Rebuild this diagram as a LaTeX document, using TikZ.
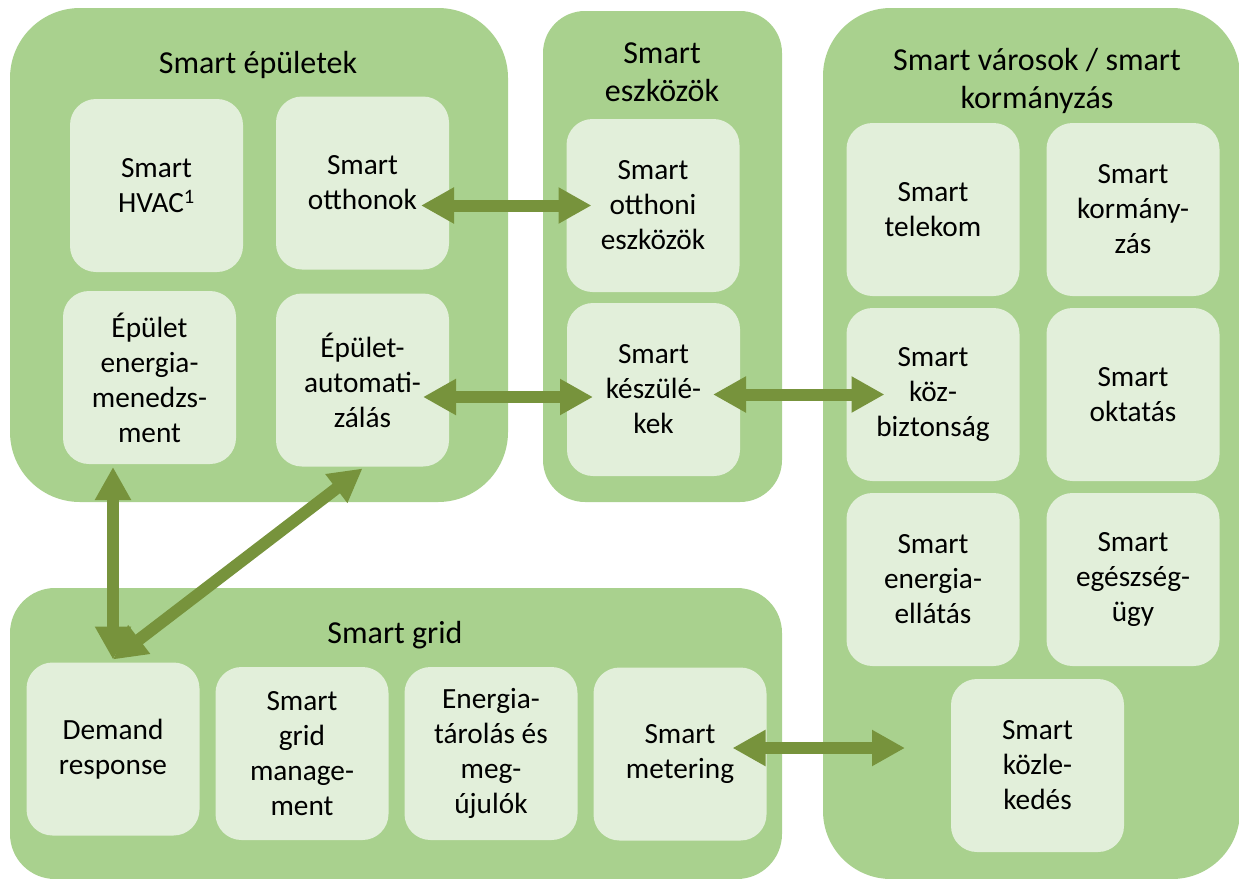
\documentclass[tikz,border=0pt]{standalone}
\usepackage{fontspec}
\setmainfont{Carlito}
\usetikzlibrary{arrows.meta,calc}
\definecolor{panelgreen}{HTML}{A9D18E}
\definecolor{cellgreen}{HTML}{E2EFDA}
\definecolor{linkgreen}{HTML}{77933C}
\begin{document}
\begin{tikzpicture}[x=1pt,y=-1pt,
  panel/.style={fill=panelgreen, rounded corners=#1, inner sep=0pt, outer sep=0pt},
  cell/.style={fill=cellgreen, rounded corners=26pt, minimum width=173pt, minimum height=173pt,
    inner sep=0pt, outer sep=0pt, align=center, font=\fontsize{29.3}{35}\selectfont},
  paneltitle/.style={align=center, anchor=base, inner sep=0pt, font=\fontsize{32}{38}\selectfont},
  link/.style={draw=linkgreen, line width=12pt,
    {Triangle[length=33pt,width=34pt]}-{Triangle[length=33pt,width=34pt]}}]
\useasboundingbox (0,0) rectangle (1239,878);
\clip (0,0) rectangle (1239,878);

% the four groups
\node[panel=70pt, minimum width=498pt, minimum height=494pt] (buildings) at (259,255) {};
\node[panel=42pt, minimum width=239pt, minimum height=491pt] (devices) at (662.5,256.5) {};
\node[panel=68pt, minimum width=417pt, minimum height=871pt] (cities) at (1031.5,443.5) {};
\node[panel=45pt, minimum width=772pt, minimum height=291pt] (grid) at (396,733.5) {};

% group titles (base anchor sits on the last line)
\node[paneltitle] (tbuildings) at (258,73) {Smart épületek};
\node[paneltitle] (tdevices) at (662,101) {Smart\\eszközök};
\node[paneltitle] (tcities) at (1037,108) {Smart városok / smart\\kormányzás};
\node[paneltitle] (tgrid) at (395,643) {Smart grid};

% smart buildings
\node[cell] (hvac) at (156.5,185.5) {Smart\\HVAC\textsuperscript{1}};
\node[cell] (otthonok) at (362.5,183) {Smart\\otthonok};
\node[cell] (energia) at (149.5,377.5) {Épület\\energia-\\menedzs-\\ment};
\node[cell] (autom) at (362.5,380) {Épület-\\automati-\\zálás};

% smart devices
\node[cell] (otthoni) at (653,205.5) {Smart\\otthoni\\eszközök};
\node[cell] (keszul) at (653.5,389.5) {Smart\\készülé-\\kek};

% smart cities / government
\node[cell] (telekom) at (933,209.5) {Smart\\telekom};
\node[cell] (kormany) at (1133,209.5) {Smart\\kormány-\\zás};
\node[cell] (kozbiz) at (933,394.5) {Smart\\köz-\\biztonság};
\node[cell] (oktatas) at (1133,394.5) {Smart\\oktatás};
\node[cell] (ellatas) at (933,579.5) {Smart\\energia-\\ellátás};
\node[cell] (egeszseg) at (1133,579.5) {Smart\\egészség-\\ügy};
\node[cell] (kozlek) at (1037.5,765.5) {Smart\\közle-\\kedés};

% smart grid
\node[cell] (demand) at (113,749) {Demand\\response};
\node[cell] (gridmgmt) at (302,753.5) {Smart\\grid\\manage-\\ment};
\node[cell] (tarolas) at (491,753.5) {Energia-\\tárolás és\\meg-\\újulók};
\node[cell] (metering) at (680,754) {Smart\\metering};

% two-way links
\draw[link] ($(otthonok.east)+(-28,22.5)$) -- ($(otthoni.west)+(25,0)$);
\draw[link] ($(autom.east)+(-26,17)$) -- ($(keszul.west)+(26,7.5)$);
\draw[link] ($(keszul.east)+(-27,5)$) -- ($(kozbiz.west)+(38,0)$);
\draw[link] ($(metering.east)+(-34,-6)$) -- ($(kozlek.west)+(-46,-17.5)$);
\draw[link] ($(energia.south)+(-36.5,3)$) -- ($(demand.north)+(0,-3)$);
\draw[link] ($(autom.south)+(0,2)$) -- ($(demand.north)+(0,-3)$);
\end{tikzpicture}
\end{document}
